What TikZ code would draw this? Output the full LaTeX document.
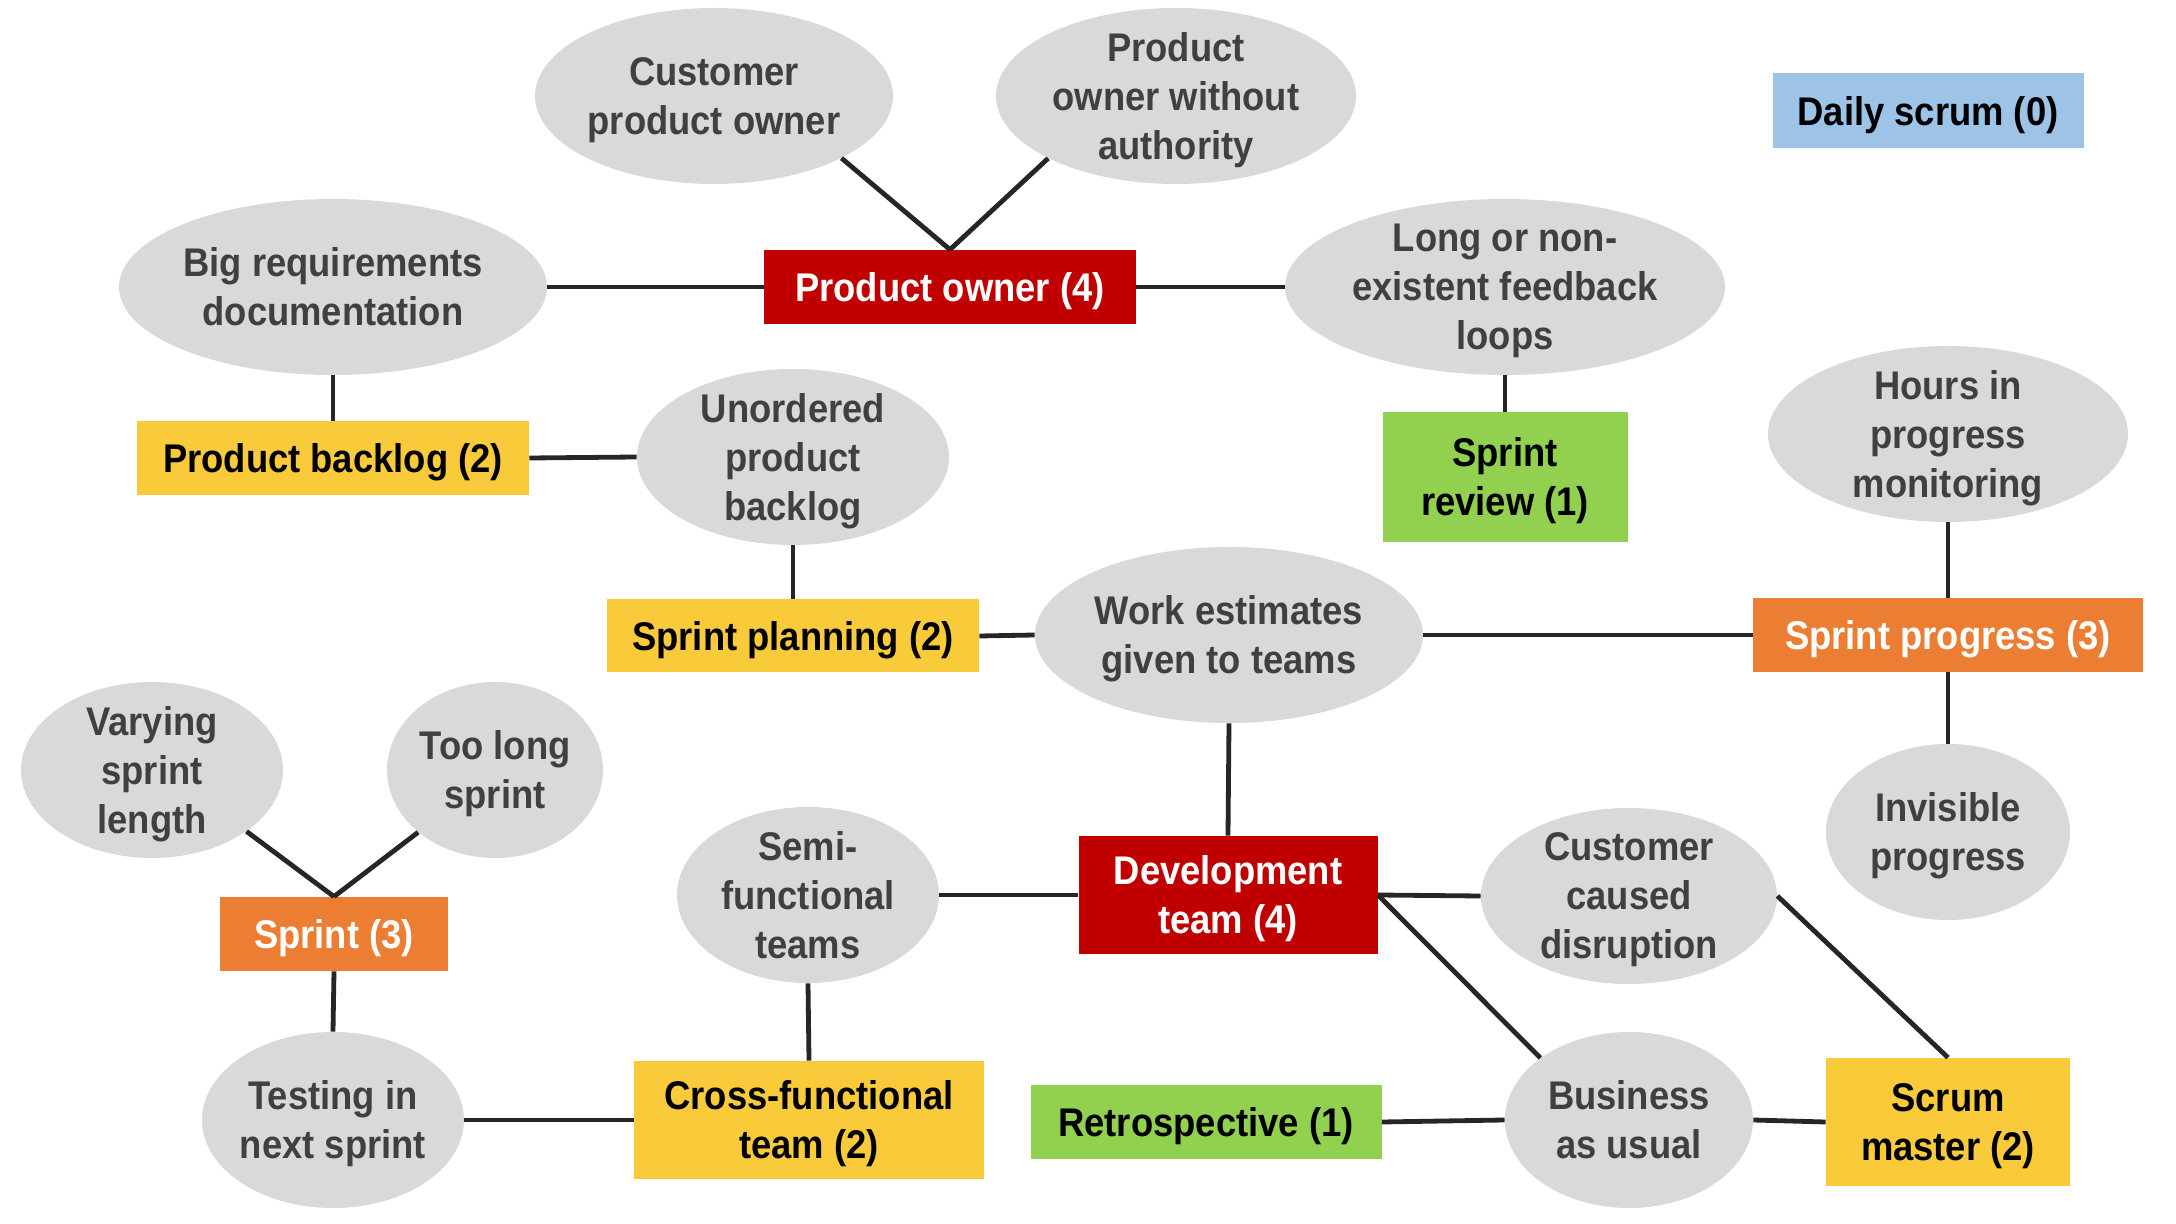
\documentclass[tikz,border=0pt]{standalone}
\usepackage{fontspec}
\setmainfont{Liberation Sans}[FakeStretch=0.91]
\usetikzlibrary{shapes.geometric}
\definecolor{ellgray}{HTML}{D9DAD8}
\definecolor{txtgray}{HTML}{404040}
\definecolor{pred}{HTML}{C00000}
\definecolor{pyellow}{HTML}{F9CB3B}
\definecolor{porange}{HTML}{EB7E33}
\definecolor{pgreen}{HTML}{92D050}
\definecolor{pblue}{HTML}{9DC3E6}
\definecolor{linecol}{HTML}{262626}
\begin{document}
\begin{tikzpicture}[x=0.5pt,y=-0.5pt,
  every node/.style={font=\fontsize{20}{24.5}\selectfont\bfseries, align=center, text depth=0pt},
  ell/.style={ellipse, fill=ellgray, inner sep=0pt, minimum height=88pt},
  lbl/.style={text=txtgray},
  box/.style={rectangle, inner sep=0pt},
  redbox/.style={box, fill=pred, text=white},
  yelbox/.style={box, fill=pyellow, text=black},
  orgbox/.style={box, fill=porange, text=white},
  grnbox/.style={box, fill=pgreen, text=black},
  blubox/.style={box, fill=pblue, text=black},
  conn/.style={draw=linecol, line width=2.4pt}]
\fill[white] (0,0) rectangle (2176,1224);
\useasboundingbox (0,0) rectangle (2176,1224);

% ellipses
\node[ell, minimum width=179pt] (cpo) at (714,96) {};
\node[lbl] (cpo-t) at (cpo) {Customer\\product owner};
\node[ell, minimum width=180pt] (powa) at (1176,96) {};
\node[lbl] (powa-t) at (powa) {Product\\owner without\\authority};
\node[ell, minimum width=214pt] (bigreq) at (333,287) {};
\node[lbl] (bigreq-t) at (bigreq) {Big requirements\\documentation};
\node[ell, minimum width=220pt] (long) at (1505,287) {};
\node[lbl] (long-t) at (long) {Long or non-\\existent feedback\\loops};
\node[ell, minimum width=156pt] (unord) at (793,457) {};
\node[lbl] (unord-t) at (unord) {Unordered\\product\\backlog};
\node[ell, minimum width=180pt] (hours) at (1948,434) {};
\node[lbl] (hours-t) at (hours) {Hours in\\progress\\monitoring};
\node[ell, minimum width=194pt] (work) at (1229,635) {};
\node[lbl] (work-t) at (work) {Work estimates\\given to teams};
\node[ell, minimum width=122pt] (invis) at (1948,832) {};
\node[lbl] (invis-t) at (invis) {Invisible\\progress};
\node[ell, minimum width=131pt] (vary) at (152,770) {};
\node[lbl] (vary-t) at (vary) {Varying\\sprint\\length};
\node[ell, minimum width=108pt] (toolong) at (495,770) {};
\node[lbl] (toolong-t) at (toolong) {Too long\\sprint};
\node[ell, minimum width=131pt] (semi) at (808,895) {};
\node[lbl] (semi-t) at (semi) {Semi-\\functional\\teams};
\node[ell, minimum width=148pt] (ccd) at (1629,896) {};
\node[lbl] (ccd-t) at (ccd) {Customer\\caused\\disruption};
\node[ell, minimum width=131pt] (testing) at (333,1120) {};
\node[lbl] (testing-t) at (testing) {Testing in\\next sprint};
\node[ell, minimum width=124pt] (bau) at (1629,1120) {};
\node[lbl] (bau-t) at (bau) {Business\\as usual};

% boxes
\node[redbox, minimum width=186pt, minimum height=37pt] (po) at (950,287) {Product owner (4)};
\node[blubox, minimum width=155.5pt, minimum height=37.5pt] (daily) at (1928,111) {Daily scrum (0)};
\node[yelbox, minimum width=196pt, minimum height=37pt] (pb) at (333,458) {Product backlog (2)};
\node[grnbox, minimum width=122.5pt, minimum height=65pt] (srev) at (1505,477) {Sprint\\review (1)};
\node[yelbox, minimum width=186pt, minimum height=36.5pt] (sp) at (793,636) {Sprint planning (2)};
\node[orgbox, minimum width=195pt, minimum height=37pt] (sprog) at (1948,635) {Sprint progress (3)};
\node[orgbox, minimum width=114pt, minimum height=37pt] (sprint) at (334,934) {Sprint (3)};
\node[redbox, minimum width=149.5pt, minimum height=59pt] (dev) at (1228,895) {Development\\team (4)};
\node[yelbox, minimum width=175pt, minimum height=59pt] (cross) at (809,1120) {Cross-functional\\team (2)};
\node[grnbox, minimum width=175.5pt, minimum height=37pt] (retro) at (1206,1122) {Retrospective (1)};
\node[yelbox, minimum width=122pt, minimum height=64pt] (scrum) at (1948,1122) {Scrum\\master (2)};

% connectors
\draw[conn] (cpo.-26) -- (po.north);
\draw[conn] (powa.-154) -- (po.north);
\draw[conn] (bigreq.east) -- (po.west);
\draw[conn] (po.east) -- (long.west);
\draw[conn] (long.south) -- (srev.north);
\draw[conn] (bigreq.south) -- (pb.north);
\draw[conn] (pb.east) -- (unord.west);
\draw[conn] (unord.south) -- (sp.north);
\draw[conn] (sp.east) -- (work.west);
\draw[conn] (work.east) -- (sprog.west);
\draw[conn] (hours.south) -- (sprog.north);
\draw[conn] (sprog.south) -- (invis.north);
\draw[conn] (work.south) -- (dev.north);
\draw[conn] (semi.east) -- (dev.west);
\draw[conn] (dev.east) -- (ccd.west);
\draw[conn] (dev.east) -- (bau.145);
\draw[conn] (ccd.east) -- (scrum.north);
\draw[conn] (vary.-33) -- (sprint.north);
\draw[conn] (toolong.-141) -- (sprint.north);
\draw[conn] (sprint.south) -- (testing.north);
\draw[conn] (testing.east) -- (cross.west);
\draw[conn] (semi.south) -- (cross.north);
\draw[conn] (retro.east) -- (bau.west);
\draw[conn] (bau.east) -- (scrum.west);
\end{tikzpicture}
\end{document}
